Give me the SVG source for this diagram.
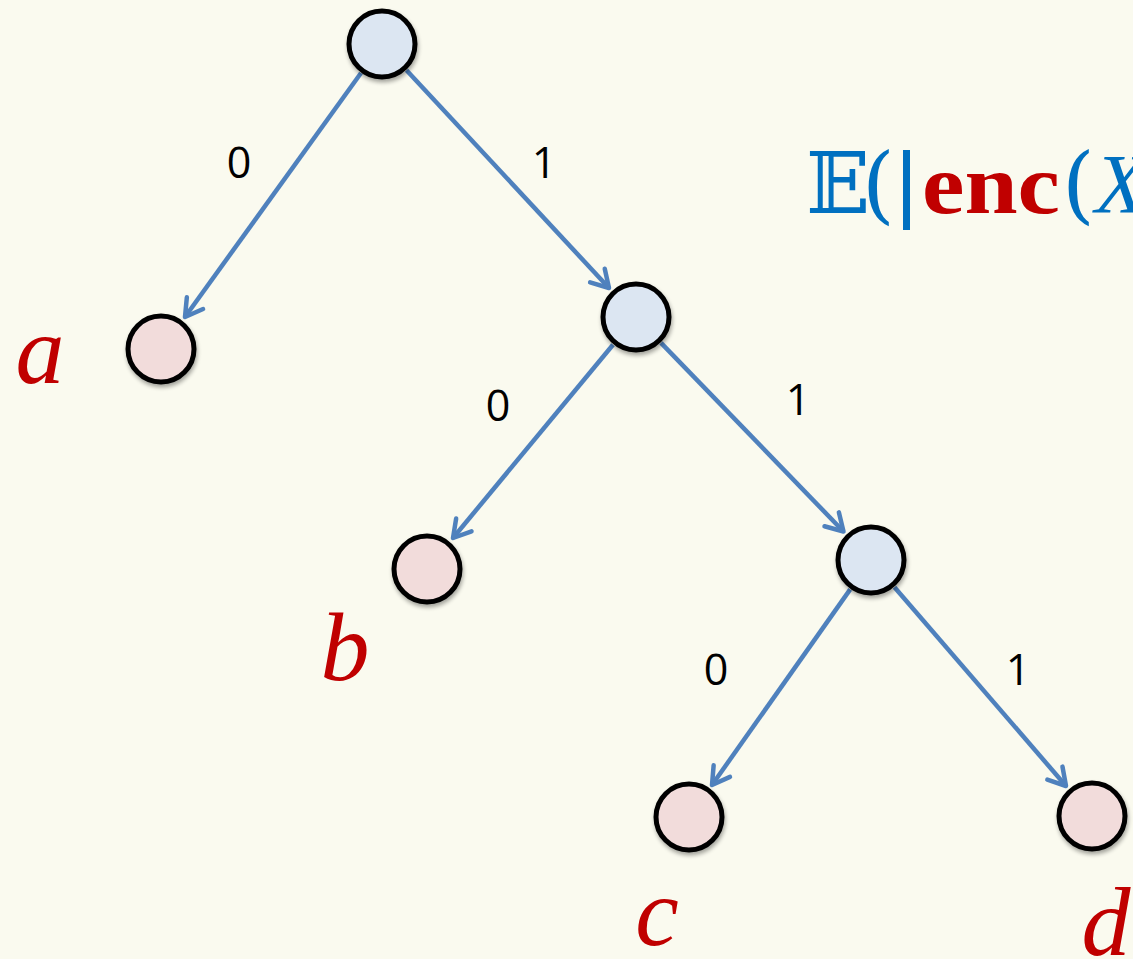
<svg xmlns="http://www.w3.org/2000/svg" width="1133" height="959" viewBox="0 0 1133 959">
<style>
.edge{stroke:#4F81BD;stroke-width:4.5;fill:none;marker-end:url(#arr)}
.inner{fill:#DCE6F2;stroke:#000;stroke-width:5}
.leaf{fill:#F2DCDB;stroke:#000;stroke-width:5}
.bit{font-family:"Open Sans",sans-serif;font-size:43px;font-weight:500;fill:#000;text-anchor:middle}
.lbl{font-family:"Liberation Serif",serif;font-style:italic;font-size:98px;fill:#C00000;text-anchor:middle}
.math{font-family:"DejaVu Serif","Liberation Serif",serif;font-size:84px;fill:#0070C0}
</style>
<defs>
<marker id="arr" markerUnits="userSpaceOnUse" markerWidth="40" markerHeight="40" viewBox="-25 -20 40 40" refX="0" refY="0" orient="auto">
<path d="M-17,-10 L0,0 L-17,10" fill="none" stroke="#4F81BD" stroke-width="4.5" stroke-linecap="round" stroke-linejoin="round"/>
</marker>
<filter id="sh" x="-30%" y="-30%" width="160%" height="160%">
<feGaussianBlur in="SourceAlpha" stdDeviation="2"/>
<feOffset dx="1" dy="3"/>
<feComponentTransfer><feFuncA type="linear" slope="0.35"/></feComponentTransfer>
<feMerge><feMergeNode/><feMergeNode in="SourceGraphic"/></feMerge>
</filter>
</defs>
<rect width="1133" height="959" fill="#FAFAEF"/>
<g id="connectors">
<line class="edge" x1="361" y1="73" x2="185" y2="317"/>
<line class="edge" x1="406.5" y1="70.3" x2="609" y2="288"/>
<line class="edge" x1="613" y1="344.7" x2="453" y2="538"/>
<line class="edge" x1="661" y1="342.9" x2="843.5" y2="531.5"/>
<line class="edge" x1="850.2" y1="589.4" x2="712" y2="785"/>
<line class="edge" x1="894.5" y1="587.2" x2="1066" y2="786"/>
</g>
<g id="edge-labels">
<text class="bit" x="239" y="178">0</text>
<text class="bit" x="544" y="178">1</text>
<text class="bit" x="498" y="421">0</text>
<text class="bit" x="798" y="415">1</text>
<text class="bit" x="716" y="685">0</text>
<text class="bit" x="1018" y="685">1</text>
</g>
<g id="root"><circle class="inner" cx="382" cy="44" r="33" filter="url(#sh)"/></g>
<g id="n1"><circle class="inner" cx="636" cy="317" r="33" filter="url(#sh)"/></g>
<g id="n2"><circle class="inner" cx="871" cy="560" r="33" filter="url(#sh)"/></g>
<g id="leaf-a"><circle class="leaf" cx="161" cy="349" r="33" filter="url(#sh)"/><text class="lbl" x="40" y="383">a</text></g>
<g id="leaf-b"><circle class="leaf" cx="427" cy="569" r="33" filter="url(#sh)"/><text class="lbl" x="345" y="680">b</text></g>
<g id="leaf-c"><circle class="leaf" cx="689" cy="817" r="33" filter="url(#sh)"/><text class="lbl" x="657" y="945">c</text></g>
<g id="leaf-d"><circle class="leaf" cx="1092" cy="816" r="33" filter="url(#sh)"/><text class="lbl" x="1106" y="955">d</text></g>
<g id="formula">
<text class="math" y="213"><tspan x="806">𝔼</tspan><tspan x="862">(</tspan></text>
<rect x="903" y="150" width="7" height="80" fill="#0070C0"/>
<text y="213" x="922" font-family="Liberation Serif,serif" font-weight="bold" font-size="84" fill="#C00000" textLength="138" lengthAdjust="spacingAndGlyphs">enc</text>
<text class="math" y="213" x="1062">(</text>
<text y="213" x="1095" font-family="Liberation Serif,serif" font-style="italic" font-size="84" fill="#0070C0">X</text>
</g>
</svg>
